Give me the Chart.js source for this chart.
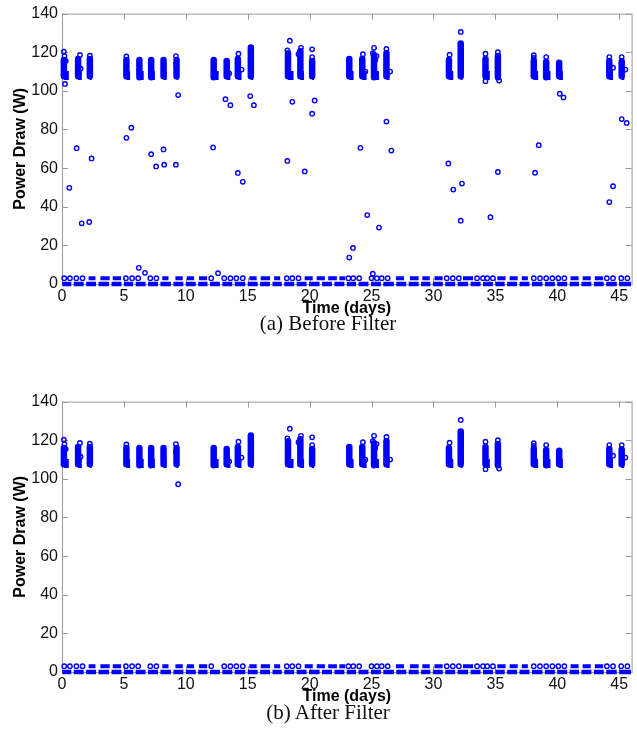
<!DOCTYPE html>
<html lang="en">
<head>
    <meta charset="UTF-8">
    <title>Power Draw Before / After Filter</title>
    <style>
        * { box-sizing: border-box; margin: 0; padding: 0; }
        body { background: #ffffff; width: 637px; height: 736px; overflow: hidden; }
        .page { position: relative; width: 637px; height: 736px; }
        canvas { position: absolute; left: 0; }
        #chartA { top: 0; }
        #chartB { top: 388px; }
        .caption {
            position: absolute;
            left: 0;
            width: 656px;
            text-align: center;
            font-family: "Liberation Serif", "DejaVu Serif", serif;
            font-size: 21px;
            line-height: 24px;
            color: #111;
        }
        #capA { top: 311px; }
        #capB { top: 700px; }
    </style>
</head>
<body>
<div class="page">
    <canvas id="chartA" width="637" height="318"></canvas>
    <div class="caption" id="capA">(a) Before Filter</div>
    <canvas id="chartB" width="637" height="318"></canvas>
    <div class="caption" id="capB">(b) After Filter</div>
</div>

<script src="https://cdn.jsdelivr.net/npm/chart.js"></script>
<script>
    // axis ticks
    const xTicks = [0, 5, 10, 15, 20, 25, 30, 35, 40, 45];
    const yTicks = [0, 20, 40, 60, 80, 100, 120, 140];

    // daytime load clusters (~106-125 W)
    const clusterDays = [0.15, 1.3, 2.25, 5.2, 6.25, 7.2, 8.2, 9.25, 12.25, 13.3, 14.2, 15.25, 18.25, 19.25, 20.2,
                         23.2, 24.25, 25.2, 26.2, 31.25, 32.2, 34.2, 35.2, 38.1, 39.1, 40.15, 44.2, 45.2];
    const clusterBaseEnd = [0.55, 1.6, 2.4, 5.5, 6.6, 7.5, 8.45, 9.4, 12.65, 13.6, 14.5, 15.45, 18.7, 19.55, 20.35,
                            23.55, 24.6, 25.6, 26.45, 31.6, 32.35, 34.55, 35.4, 38.45, 39.45, 40.45, 44.5, 45.4];
    const clusterLow = [106, 106, 106, 106, 105.5, 105.5, 106, 106, 105.5, 106, 106, 106, 106, 106, 106,
                        106, 106, 105.5, 106, 106, 106, 106, 105.5, 106, 105.5, 106, 106, 106];
    const clusterTop = [117.5, 118, 118, 117.5, 117.5, 117.5, 117.5, 117.5, 117.5, 117, 118, 124, 121, 122, 117,
                        118, 118, 120, 121, 117.5, 126, 118, 119.5, 117, 116.5, 116, 117, 116.5];
    // single readings sitting on or above the clusters
    const clusterDots = [[0.15, 120.3], [0.2, 118], [0.3, 115.5], [1.45, 118.6], [1.5, 111.5], [2.25, 118.2],
                         [5.2, 117.8], [9.2, 118], [9.2, 114], [13.5, 109], [14.25, 119.2], [14.5, 111],
                         [18.4, 126], [18.2, 121], [19.3, 122.3], [19.1, 119], [20.2, 121.5], [20.2, 117.5],
                         [24.3, 119], [24.5, 110], [25.2, 122.3], [25.1, 119.5], [25.4, 118], [25.3, 116],
                         [26.2, 121.7], [26.5, 110], [31.3, 118.7], [32.2, 130.5], [32.2, 124], [32.2, 120.5],
                         [32.2, 117], [34.2, 119.2], [34.2, 105], [35.2, 120], [35.2, 118], [35.3, 105.3],
                         [38.1, 118.5], [38.1, 117], [39.1, 117.5], [44.2, 117.5], [44.5, 112], [45.2, 117.5],
                         [45.2, 115.5], [45.5, 111]];

    // standby rows: 0 W and ~3 W
    const zeroRowSegs = [[0.02, 0.75], [0.95, 1.75], [1.95, 2.75], [2.95, 3.8], [4.0, 4.8], [5.0, 5.75],
                         [5.95, 6.75], [6.95, 7.75], [7.95, 8.8], [9.0, 9.8], [10.0, 10.8], [11.0, 11.75],
                         [11.95, 12.75], [12.95, 13.75], [13.95, 14.8], [15.0, 15.8], [16.0, 16.8], [17.0, 17.75],
                         [17.95, 18.75], [18.95, 19.75], [19.95, 20.8], [21.0, 21.8], [22.0, 22.8], [23.0, 23.75],
                         [23.95, 24.75], [24.95, 25.75], [25.95, 26.8], [27.0, 27.8], [28.0, 28.8], [29.0, 29.75],
                         [29.95, 30.75], [30.95, 31.75], [31.95, 32.8], [33.0, 33.8], [34.0, 34.8], [35.0, 35.75],
                         [35.95, 36.75], [36.95, 37.75], [37.95, 38.8], [39.0, 39.8], [40.0, 40.8], [41.0, 41.75],
                         [41.95, 42.75], [42.95, 43.75], [43.95, 44.8], [45.0, 45.95]];
    const lowRowSegs = [[2.15, 2.7], [3.1, 3.85], [4.1, 4.77], [8.1, 8.6], [9.16, 9.75], [10.08, 10.67],
                        [11.07, 11.72], [15.13, 15.72], [16.05, 16.8], [17.13, 17.62], [19.6, 20.25], [20.57, 21.23],
                        [21.5, 22.2], [22.4, 22.87], [26.97, 27.62], [28.1, 28.8], [29.1, 29.7], [30.08, 30.74],
                        [32.38, 33.2], [35.16, 35.82], [36.15, 36.8], [37.13, 37.62], [41.07, 41.72], [42.05, 42.7],
                        [43.03, 43.7]];
    const lowRowDots = [0.18, 0.64, 1.16, 1.66, 5.16, 5.66, 6.15, 7.13, 7.62, 12.05, 13.1, 13.6, 14.08, 14.6,
                        18.15, 18.6, 19.1, 23.13, 23.52, 24.0, 25.0, 25.43, 25.82, 26.3, 31.07, 31.56, 32.05,
                        33.52, 34.0, 34.34, 34.8, 38.1, 38.6, 39.1, 39.6, 40.08, 40.57, 44.0, 44.5, 45.16, 45.66];
    const lowRowLevel = 3;

    // transitional readings removed by the filter
    const outliersBefore = [[0.24, 103.6], [0.59, 49.8], [1.18, 70.3], [1.59, 31.4], [2.2, 32.1], [2.39, 65.0],
                            [5.2, 75.7], [5.6, 80.9], [6.2, 8.4], [6.7, 5.8], [7.2, 67.2], [7.6, 60.9],
                            [8.2, 69.7], [8.25, 61.8], [9.2, 61.8], [9.38, 97.8], [12.2, 70.7], [12.6, 5.6],
                            [13.2, 95.7], [13.6, 92.6], [14.2, 57.5], [14.6, 52.9], [15.2, 97.3], [15.5, 92.6],
                            [18.2, 63.7], [18.6, 94.3], [19.6, 58.3], [20.2, 88.2], [20.4, 95.0], [23.2, 13.7],
                            [23.5, 18.7], [24.1, 70.5], [24.65, 35.7], [25.1, 5.3], [25.6, 29.2], [26.2, 84.1],
                            [26.6, 69.1], [31.2, 62.4], [31.6, 48.9], [32.2, 32.8], [32.3, 52.0], [34.6, 34.6],
                            [35.2, 58.0], [38.2, 57.6], [38.5, 71.9], [40.2, 98.5], [40.5, 96.6], [44.2, 42.4],
                            [44.5, 50.6], [45.2, 85.4], [45.6, 83.4]];
    const outliersAfter = [[9.38, 97.2]];

    const BLUE = '#0000ff';
    const AXIS = '#9a9a9a';

    function segData(segs, level) {
        const out = [];
        segs.forEach(s => {
            out.push({ x: s[0], y: level }, { x: s[1], y: level }, { x: s[1], y: null });
        });
        return out;
    }

    function barData() {
        const out = [];
        clusterDays.forEach((d, i) => {
            out.push({ x: d, y: clusterLow[i] + 1.5 }, { x: d, y: clusterTop[i] - 1.5 }, { x: d, y: null });
        });
        return out;
    }

    function baseData() {
        const out = [];
        clusterDays.forEach((d, i) => {
            out.push({ x: d, y: 108 }, { x: clusterBaseEnd[i], y: 108 }, { x: clusterBaseEnd[i], y: null });
        });
        return out;
    }

    const lineSet = (data, width, cap) => ({
        data: data,
        showLine: true,
        spanGaps: false,
        borderColor: BLUE,
        borderWidth: width,
        borderCapStyle: cap,
        pointRadius: 0,
        pointHoverRadius: 0,
        clip: false
    });

    const dotSet = (data) => ({
        data: data,
        pointStyle: 'circle',
        pointRadius: 2.2,
        pointBorderWidth: 1.4,
        pointBorderColor: BLUE,
        pointBackgroundColor: 'rgba(0,0,0,0)',
        clip: false
    });

    // box and inward ticks, drawn under the markers
    const frame = {
        id: 'frame',
        beforeDatasetsDraw(chart) {
            const { ctx, chartArea: a, scales: { x, y } } = chart;
            ctx.save();
            ctx.strokeStyle = AXIS;
            ctx.lineWidth = 1;
            ctx.strokeRect(a.left + 0.5, a.top + 0.5, a.right - a.left, a.bottom - a.top);
            ctx.beginPath();
            xTicks.forEach(v => {
                const px = Math.round(x.getPixelForValue(v)) + 0.5;
                ctx.moveTo(px, a.bottom); ctx.lineTo(px, a.bottom - 6);
                ctx.moveTo(px, a.top); ctx.lineTo(px, a.top + 6);
            });
            yTicks.forEach(v => {
                const py = Math.round(y.getPixelForValue(v)) + 0.5;
                ctx.moveTo(a.left, py); ctx.lineTo(a.left + 6, py);
                ctx.moveTo(a.right, py); ctx.lineTo(a.right - 6, py);
            });
            ctx.stroke();
            ctx.restore();
        }
    };

    function makeChart(id, outliers) {
        const ctx = document.getElementById(id).getContext('2d');
        return new Chart(ctx, {
            type: 'scatter',
            data: {
                datasets: [
                    lineSet(segData(zeroRowSegs, 0), 4.5, 'butt'),
                    lineSet(segData(lowRowSegs, lowRowLevel), 4, 'butt'),
                    dotSet(lowRowDots.map(d => ({ x: d, y: lowRowLevel }))),
                    lineSet(baseData(), 9, 'butt'),
                    lineSet(barData(), 6.5, 'round'),
                    dotSet(clusterDots.map(p => ({ x: p[0], y: p[1] }))),
                    dotSet(outliers.map(p => ({ x: p[0], y: p[1] })))
                ]
            },
            options: {
                responsive: false,
                animation: false,
                layout: { padding: { top: 12, right: 5, left: 0, bottom: 0 } },
                plugins: {
                    legend: { display: false },
                    tooltip: { enabled: false }
                },
                scales: {
                    x: {
                        type: 'linear',
                        min: 0,
                        max: 46,
                        afterBuildTicks: s => { s.ticks = xTicks.map(v => ({ value: v })); },
                        afterFit: s => { s.height = 34; },
                        grid: { display: false, drawTicks: false },
                        border: { display: false },
                        ticks: {
                            padding: 3,
                            maxRotation: 0,
                            color: '#111',
                            font: { family: '"Liberation Sans", Arial, sans-serif', size: 16 }
                        },
                        title: {
                            display: true,
                            text: 'Time (days)',
                            color: '#000',
                            padding: { top: 0, bottom: 0 },
                            font: { family: '"Liberation Sans", Arial, sans-serif', size: 16, weight: 'bold' }
                        }
                    },
                    y: {
                        type: 'linear',
                        min: 0,
                        max: 140,
                        afterBuildTicks: s => { s.ticks = yTicks.map(v => ({ value: v })); },
                        afterFit: s => { s.width = 62; },
                        grid: { display: false, drawTicks: false },
                        border: { display: false },
                        ticks: {
                            padding: 4,
                            color: '#111',
                            font: { family: '"Liberation Sans", Arial, sans-serif', size: 16 }
                        },
                        title: {
                            display: true,
                            text: 'Power Draw (W)',
                            color: '#000',
                            padding: { top: 11, bottom: 0 },
                            font: { family: '"Liberation Sans", Arial, sans-serif', size: 16, weight: 'bold' }
                        }
                    }
                }
            },
            plugins: [frame]
        });
    }

    makeChart('chartA', outliersBefore);
    makeChart('chartB', outliersAfter);
</script>
</body>
</html>
